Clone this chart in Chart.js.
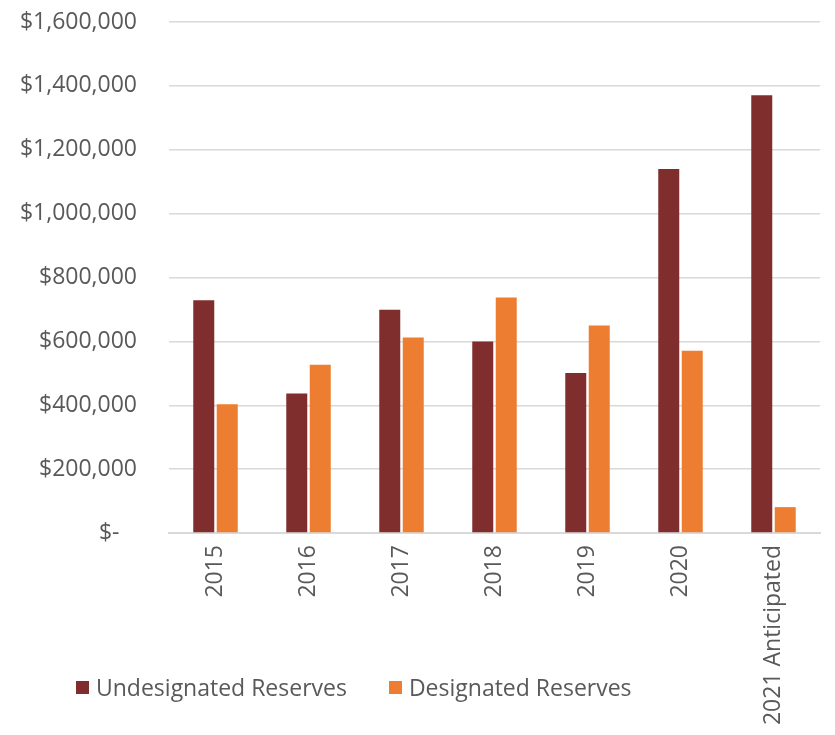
<!DOCTYPE html>
<html>
<head>
<meta charset="utf-8">
<script src="https://cdn.jsdelivr.net/npm/chart.js@4.4.1/dist/chart.umd.min.js"></script>
<style>
  html, body { margin: 0; padding: 0; background: #fff; }
  #wrap { position: relative; width: 835px; height: 735px; }
  #legend { position: absolute; left: 76px; top: 671px; font: 23px "Open Sans", sans-serif; color: #595959; display: flex; }
  #legend .item { display: flex; align-items: center; margin-right: 42px; }
  #legend .box { width: 13px; height: 13px; margin-right: 7px; }
</style>
</head>
<body>
<div id="wrap">
  <canvas id="reserves_chart" width="835" height="735"></canvas>
  <div id="legend"></div>
</div>
<script>
var years = ["2015", "2016", "2017", "2018", "2019", "2020", "2021 Anticipated"];
var undesignated = [729000, 437000, 699000, 600000, 501000, 1140000, 1371000];
var designated = [403000, 527000, 612000, 737000, 650000, 571000, 81000];
var seriesNames = ["Undesignated Reserves", "Designated Reserves"];
var seriesColors = ["#7f2e2d", "#ed7d31"];

var money = function(v){
  if (v === 0) return '$-\u2002 ';
  return '$' + v.toLocaleString('en-US');
}

var context = document.getElementById("reserves_chart").getContext('2d');
var myChart = new Chart(context, {
  type: 'bar',
  data: {
    labels: years,
    datasets: [{
      label: seriesNames[0],
      backgroundColor: seriesColors[0],
      data: undesignated
    }, {
      label: seriesNames[1],
      backgroundColor: seriesColors[1],
      data: designated
    }]
  },
  options: {
    responsive: false,
    animation: false,
    layout: { padding: { top: 22, right: 15, left: 0, bottom: 0 } },
    datasets: {
      bar: { categoryPercentage: 0.505, barPercentage: 0.894 }
    },
    plugins: {
      legend: { display: false },
      tooltip: { enabled: false }
    },
    scales: {
      x: {
        grid: { display: false, drawTicks: false },
        border: { color: '#d9d9d9', width: 2 },
        ticks: {
          color: '#595959',
          font: { family: 'Open Sans', size: 23 },
          minRotation: 90,
          maxRotation: 90,
          padding: 12
        },
        afterFit: function(axis){ axis.height = 202; }
      },
      y: {
        min: 0,
        max: 1600000,
        grid: { color: '#d9d9d9', lineWidth: 1.5, drawTicks: false },
        border: { display: false },
        ticks: {
          stepSize: 200000,
          color: '#595959',
          font: { family: 'Open Sans', size: 23 },
          padding: 32,
          callback: money
        },
        afterFit: function(axis){
          axis.width = 169;
          axis.paddingTop = 0;
          axis.paddingBottom = 0;
        }
      }
    }
  }
});

// legend row under the chart
var legend = document.getElementById('legend');
for (var i = 0; i < seriesNames.length; i++) {
  var item = document.createElement('div');
  item.className = 'item';
  item.innerHTML = '<span class="box" style="background:' + seriesColors[i] + '"></span>' + seriesNames[i];
  legend.appendChild(item);
}
</script>
</body>
</html>
